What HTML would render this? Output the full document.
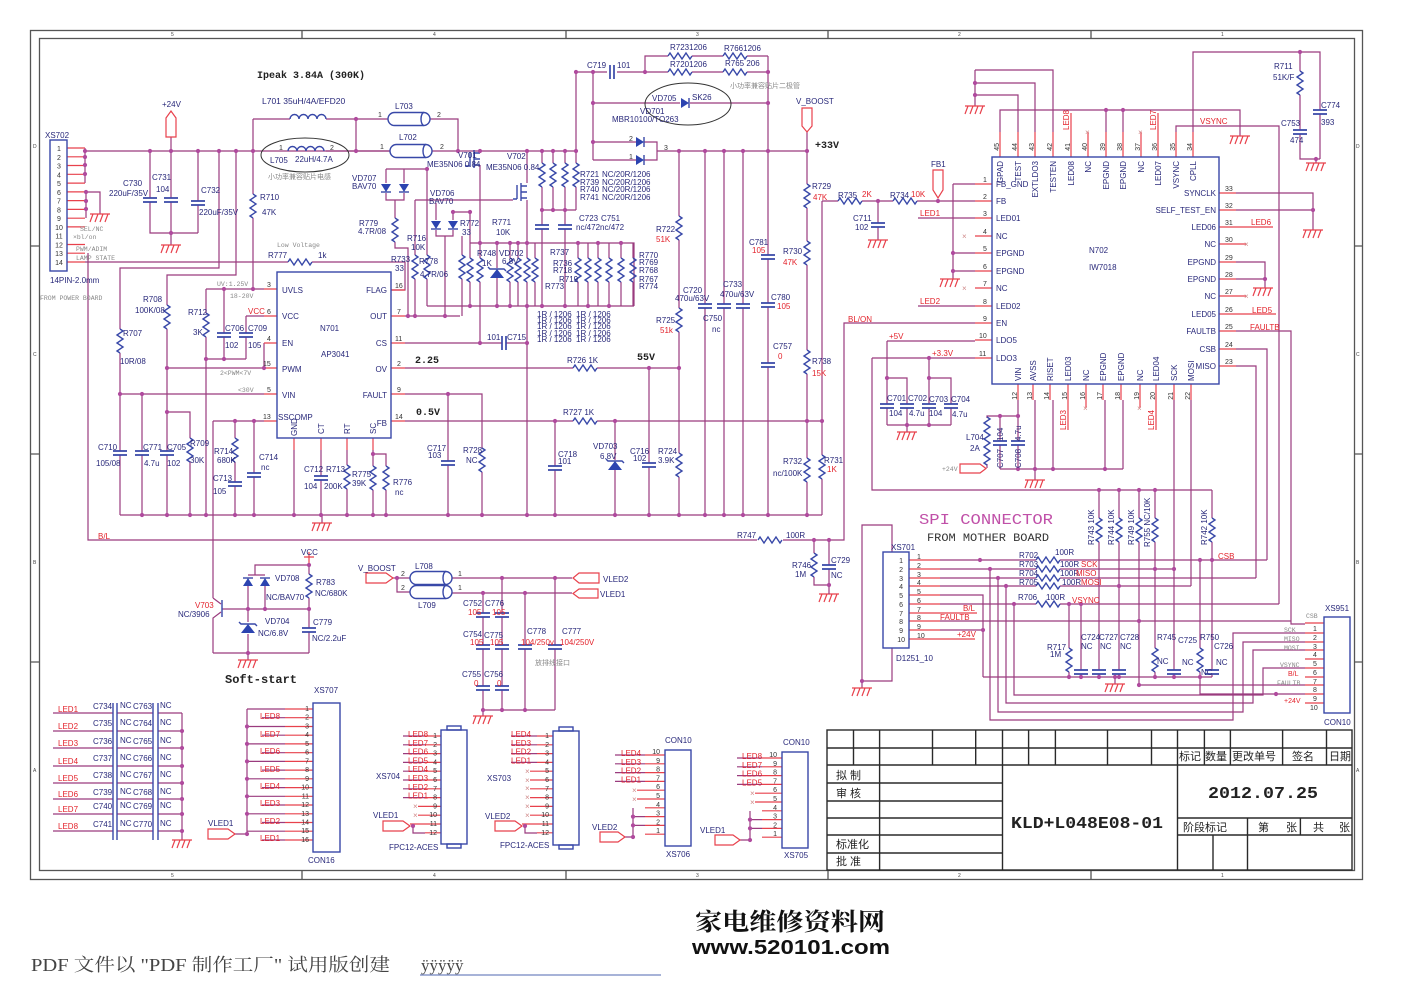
<!DOCTYPE html>
<html><head><meta charset="utf-8"><style>
html,body{margin:0;padding:0;background:#fff;}
svg{display:block}
.w{stroke:#9a3b7e;stroke-width:1.2;fill:none}
.r{stroke:#e8414c;stroke-width:1.2;fill:none}
.b{stroke:#3848a8;stroke-width:1.4;fill:none}
.k{stroke:#2a2a2a;stroke-width:1.4;fill:none}
.f{stroke:#555;stroke-width:1.3;fill:none}
text{font-family:"Liberation Sans",sans-serif;font-size:8px;fill:#28287a}
.tr{fill:#e3232c}
.tg{font-family:"Liberation Mono",monospace;font-size:6.5px;fill:#888}
.tz{font-size:5px;fill:#444}
.tb{font-family:"Liberation Mono",monospace;font-weight:bold;font-size:10px;fill:#222}
.tc{font-family:"Liberation Sans","Noto Sans CJK SC",sans-serif;font-size:7px;fill:#888}
.tn{font-size:7px;fill:#333}
.tk{font-family:"Liberation Sans","Noto Sans CJK SC",sans-serif;font-size:11px;fill:#222}
.x{font-size:8px;fill:#d08a8a}
</style></head><body>
<svg width="1404" height="993" viewBox="0 0 1404 993" xmlns="http://www.w3.org/2000/svg">
<defs>
<path id="rv" class="b" d="M0,-12 l3,2 l-6,4 l6,4 l-6,4 l6,4 l-6,4 l3,2"/>
<path id="rh" class="b" d="M-12,0 l2,-3 l4,6 l4,-6 l4,6 l4,-6 l4,6 l2,-3"/>
<path id="cv" class="b" d="M-7,-2h14M-7,2h14" style="stroke-width:1.7"/>
<path id="ch" class="b" d="M-2,-7v14M2,-7v14" style="stroke-width:1.7"/>
<path id="gnd" class="r" d="M-10,0h20M-7,0l-3,8M-2,0l-3,8M3,0l-3,8M8,0l-3,8"/>
<g id="dd"><path d="M-5,-4H5L0,4Z" fill="#2c44b0"/><path class="b" d="M-5,4H5"/></g>
<g id="du"><path d="M-5,4H5L0,-4Z" fill="#2c44b0"/><path class="b" d="M-5,-4H5"/></g>
<g id="dr"><path d="M-4,-5V5L4,0Z" fill="#2c44b0"/><path class="b" d="M4,-5V5"/></g>
<g id="zu"><path d="M-7,5H7L0,-4Z" fill="#2c44b0"/><path class="b" d="M-9,-6l2,2H7l2,2"/></g>
<circle id="d" r="2.1" fill="#b04a9e"/>
<path id="coil" class="b" d="M0,0a4.5,4.5 0 0 1 9,0a4.5,4.5 0 0 1 9,0a4.5,4.5 0 0 1 9,0a4.5,4.5 0 0 1 9,0"/>
<g id="bead"><rect x="0" y="-6.5" width="42" height="13" rx="6.5" class="b"/><path class="b" d="M36,-6.5a3,6.5 0 0 0 0,13"/></g>
</defs>

<!-- FRAME -->
<rect x="30.5" y="30.5" width="1332" height="849" class="f"/>
<rect x="39.5" y="38.5" width="1315" height="832" class="f"/>
<path class="f" d="M302,30V38M566,30V38M828,30V38M1091,30V38M302,870V879M566,870V879M828,870V879M1091,870V879M30,246H39M30,454H39M30,662H39M1354,246H1362M1354,454H1362M1354,662H1362"/>
<text class="tz" x="171" y="36">5</text><text class="tz" x="433" y="36">4</text><text class="tz" x="696" y="36">3</text><text class="tz" x="958" y="36">2</text><text class="tz" x="1221" y="36">1</text>
<text class="tz" x="171" y="877">5</text><text class="tz" x="433" y="877">4</text><text class="tz" x="696" y="877">3</text><text class="tz" x="958" y="877">2</text><text class="tz" x="1221" y="877">1</text>
<text class="tz" x="33" y="148">D</text><text class="tz" x="33" y="356">C</text><text class="tz" x="33" y="564">B</text><text class="tz" x="33" y="772">A</text>
<text class="tz" x="1356" y="148">D</text><text class="tz" x="1356" y="356">C</text><text class="tz" x="1356" y="564">B</text><text class="tz" x="1356" y="772">A</text>

<!-- WIRES -->
<path class="w" d="M85,148V183M85,151H390M86,192V218M86,192H100V214M88,253V540H757M783,540H844V323H975
M85,262H288M312,262H405V290H391M171,137V151
M150,151V198M150,202V233H198M171,151V198M171,202V245M198,151V201M198,205V233
M219,151V268H120V329M120,353V451M120,455V515M236,151V275H167V305M167,329V451M167,455V515
M253,119V194M253,218V289M253,119H290M326,119H388M430,119H458V151M356,119V151M432,151H576
M206,289H264M206,289V313M206,337V515M224,289V333M224,337V359M246,316V333M246,337V359M206,359H246
M246,316H264M264,343V368M167,368H264M120,394H264M142,394V451M142,455V515M167,412H190V438M190,462V515
M213,421H264M213,421V598M235,421V438M235,462V482M235,486V515M254,421V473M254,477V515
M294,450V515M321,450V476M321,480V515M347,450V465M347,489V515M373,450V466M373,490V515M373,454H386V466M386,490V515
M120,515H822M322,515V523
M405,316H460M405,343H502M506,343H527M405,368H573M597,368H679M405,394H482V448M482,472V515M448,394V461M448,465V515
M405,421H573M597,421H822M555,421V466M555,470V515M615,421V460M615,470V515M649,368V463M649,467V515
M679,151V216M679,240V308M679,332V453M679,477V515M705,151V304M705,308V515M724,151V304M724,308V515M743,151V304M743,308V515
M768,56V255M768,259V303M768,307V363M768,367V515M807,132V184M807,208V241M807,265V350M807,374V458M807,482V515
M822,201V455M822,479V515M822,201H838M862,201H893M917,201H975M878,201V223M878,227V240M657,151H807
M576,72H607M617,72H668M692,72H723M747,72H768M645,72V56H668M692,56H723M747,56H768M576,72V151
M593,72V160M593,142H636M593,160H636M644,142H657V160H644M593,103H680M690,103H768
M480,151V153M480,165V258M480,282V343M527,151V183M527,200V258M527,282V515
M542,151V163M542,187V225M542,229V306M553,151V163M553,187V210M565,151V163M565,187V225M565,229V306M576,151V163M576,187V210M542,210H576
M470,243H634V306M427,306H634M470,212V258M470,282V306
M510,243V258M510,282V306M518,243V258M518,282V306M535,243V258M535,282V306M578,243V258M578,282V306M588,243V258M588,282V306
M598,243V258M598,282V306M609,243V258M609,282V306M621,243V258M621,282V306M633,243V258M633,282V306
M497,243V268M497,278V306
M386,169H425M386,169V183M404,169V183M386,193V200H404V193M395,200V218M395,242V248H408V316
M427,169V255M427,279V306M415,200H513M415,200V255M415,279V316
M436,203V220M453,212V220M436,230V236H453V230M445,236V316M453,212H470M462,236V255M462,279V316
M872,358H975M872,358V490H1212M887,341H975M887,341V404M887,408V425M887,378H907V404M907,408V425M929,358V404M929,408V425M929,378H951V404M951,408V425M887,425H951M907,425V432
M918,218H975M918,306H975M953,184H975M953,184V279M953,253H975M953,271H975
M975,70H1053V132M975,83H1035V132M975,95H1018V132M975,70V106M1000,132V110H1240V136M1106,110V132M1123,110V132
M1176,132V126H1279V604M1193,132V52H1320V110M1320,114V159M1300,52V71M1300,95V130M1300,134V159H1320M1316,159V163
M1236,193H1313V230M1236,210H1313M1236,262H1265V288M1236,279H1265M1236,331H1291V624H1305M1236,349H1267V560M1236,366H1256V578
M1018,400V416H987V418M987,464V468M1000,416V441M1000,445V469M1018,416V441M1018,445V469M1000,469H1123M1035,400V480M1053,400V469M1105,400V469M1123,400V469
M1174,400V670M1174,674V677M1191,400V586
M892,552V525H862V681H892V648M862,681V688
M940,560H1036M1060,560H1267M940,569H1036M1060,569H1174M940,578H1036M1060,578H1256M940,586H1036M1060,586H1191
M940,595H983V677M940,604H1036M1060,604H1279M940,621H1291M940,630H983
M1069,604V648M1069,672V677M1081,604V670M1081,674V677M1099,490V518M1099,542V670M1099,674V677M1119,490V518M1119,542V670M1119,674V677
M1139,490V518M1139,542V685H1305M1155,490V518M1155,542V648M1155,672V677M1200,560V648M1200,672V694H1305M1212,490V518M1212,542V670M1212,674V677
M983,677H1212M1115,677V684
M990,569V720H1233V633H1305M998,578V712H1243V642H1305M1006,586V703H1253V650H1305M1014,604V695H1263V668H1305
M53,713H113M117,713H153M158,713H182M53,731H113M117,731H153M158,731H182M53,748H113M117,748H153M158,748H182M53,766H113M117,766H153M158,766H182
M53,783H113M117,783H153M158,783H182M53,799H113M117,799H153M158,799H182M53,814H113M117,814H153M158,814H182M53,831H113M117,831H153M158,831H182
M182,713V840
M247,709V834M235,834H247M247,709H285M247,726.5H285M247,743.9H285M247,761.4H285M247,778.8H285M247,796.3H285M247,813.8H285M247,831.2H285
M262,717.7H285M262,735.2H285M262,752.7H285M262,770.1H285M262,787.6H285M262,805H285M262,822.5H285M262,840H285
M403,736H425M403,744.8H425M403,753.6H425M403,762.4H425M403,771.2H425M403,780H425M403,788.8H425M403,797.6H425M413,826V833H425
M511,736H537M511,744.8H537M511,753.6H537M511,762.4H537M525,826V833H537
M615,755H645M615,763.8H645M615,772.6H645M615,781.4H645M633,808V837M625,837H633M633,816.6H645M633,825.4H645
M737,758H762M737,766.8H762M737,775.6H762M737,784.4H762M750,811V840M740,840H750M750,819.6H762M750,828.4H762
M393,578H410M397,578V592H410M452,578H572M452,593H572
M483,593V613M483,617V645M483,649V686M483,690V710M502,578V613M502,617V645M502,649V686M502,690V710M525,593V645M525,649V710M555,578V645M555,649V710M483,710H555M483,710V716
M213,598l8,6M221,612l-8,6V653M222,609H309M255,575V565H309M248,575H265M248,586V609M265,586V609M309,565V574M309,598V628M309,632V653M248,609V622M248,634V653M213,653H309M248,653V660
"/>
<!-- red pin stubs -->
<path class="r" d="M67,148H85M67,156.8H85M67,165.5H85M67,174.3H85M67,183.1H85M67,191.9H85M67,200.6H85M67,209.4H85M67,218.2H85M67,226.9H85M67,244.5H85M67,253.2H85M67,262H85
M264,289H277M264,316H277M264,343H277M264,368H277M264,394H277M264,421H277M391,290H405M391,316H405M391,343H405M391,368H405M391,394H405M391,421H405
M294,438V450M321,438V450M347,438V450M373,438V450
M975,184H992M975,201H992M975,218H992M975,236H992M975,253H992M975,271H992M975,288H992M975,306H992M975,323H992M975,340H992M975,358H992
M1219,193H1236M1219,210H1236M1219,227H1236M1219,244H1236M1219,262H1236M1219,279H1236M1219,296H1236M1219,314H1236M1219,331H1236M1219,349H1236M1219,366H1236
M1000,132V157M1018,132V157M1035,132V157M1053,132V157M1071,113V157M1088,132V157M1106,132V157M1123,132V157M1141,132V157M1158,113V157M1176,132V157M1193,132V157
M1018,384V400M1033,384V400M1050,384V400M1068,384V430M1086,384V408M1103,384V400M1121,384V400M1140,384V408M1156,384V430M1174,384V400M1191,384V400
M1236,227H1273M1236,314H1276M1236,244H1246M1236,296H1246
M909,560H940M909,569H940M909,578H940M909,586H940M909,595H940M909,604H940M909,613H977M909,621H940M909,630H940M909,639H975
M1305,623H1324M1305,633H1324M1305,642H1324M1305,650H1324M1305,659H1324M1305,668H1324M1305,677H1324M1305,685H1324M1305,694H1324M1305,703H1324
M285,709H313M285,717.7H313M285,726.5H313M285,735.2H313M285,743.9H313M285,752.7H313M285,761.4H313M285,770.1H313M285,778.8H313M285,787.6H313M285,796.3H313M285,805H313M285,813.8H313M285,822.5H313M285,831.2H313M285,840H313
M425,736H441M425,744.8H441M425,753.6H441M425,762.4H441M425,771.2H441M425,780H441M425,788.8H441M425,797.6H441M418,806.4H441M418,815.2H441M410,824H441M425,832.8H441
M537,736H553M537,744.8H553M537,753.6H553M537,762.4H553M530,771.2H553M530,780H553M530,788.8H553M530,797.6H553M530,806.4H553M530,815.2H553M522,824H553M537,832.8H553
M645,755H665M645,763.8H665M645,772.6H665M645,781.4H665M637,790.2H665M637,799H665M645,807.8H665M645,816.6H665M645,825.4H665M645,834.2H665
M762,758H782M762,766.8H782M762,775.6H782M762,784.4H782M755,793.2H782M755,802H782M762,810.8H782M762,819.6H782M762,828.4H782M762,837.2H782
M309,552V565M304,557H314
"/>
<!-- ports -->
<path class="r" d="M166,137V118L171,111L176,118V137Z M802,108H812V126L807,132L802,126Z M933,170H943V190L938,198L933,190Z
M960,464H980L986,468.5L980,473H960Z M366,573H386L393,578L386,583H366Z M599,573H579L573,578L579,583H599Z M598,589H579L573,593.5L579,598H598Z
M208,829H228L235,834L228,839H208Z M383,821H403L410,826L403,831H383Z M495,821H515L522,826L515,831H495Z M600,832H618L625,837L618,842H600Z M715,835H733L740,840L733,845H715Z"/>

<!-- grounds -->
<use href="#gnd" x="100" y="214"/><use href="#gnd" x="171" y="245"/><use href="#gnd" x="322" y="523"/><use href="#gnd" x="878" y="240"/>
<use href="#gnd" x="950" y="279"/><use href="#gnd" x="975" y="106"/><use href="#gnd" x="1240" y="136"/><use href="#gnd" x="1316" y="163"/>
<use href="#gnd" x="1313" y="230"/><use href="#gnd" x="1263" y="288"/><use href="#gnd" x="907" y="432"/><use href="#gnd" x="1035" y="480"/>
<use href="#gnd" x="1115" y="684"/><use href="#gnd" x="862" y="688"/><use href="#gnd" x="182" y="840"/><use href="#gnd" x="483" y="716"/>
<use href="#gnd" x="248" y="660"/><use href="#gnd" x="829" y="594"/>

<!-- resistors -->
<use href="#rh" x="300" y="262"/><use href="#rv" x="120" y="341"/><use href="#rv" x="167" y="317"/><use href="#rv" x="253" y="206"/>
<use href="#rv" x="206" y="325"/><use href="#rv" x="190" y="450"/><use href="#rv" x="235" y="450"/><use href="#rv" x="347" y="477"/>
<use href="#rv" x="373" y="478"/><use href="#rv" x="386" y="478"/><use href="#rv" x="482" y="460"/><use href="#rh" x="585" y="368"/>
<use href="#rh" x="585" y="421"/><use href="#rv" x="679" y="228"/><use href="#rv" x="679" y="320"/><use href="#rv" x="679" y="465"/>
<use href="#rv" x="807" y="196"/><use href="#rv" x="807" y="253"/><use href="#rv" x="807" y="362"/><use href="#rv" x="807" y="470"/>
<use href="#rv" x="822" y="467"/><use href="#rh" x="850" y="201"/><use href="#rh" x="905" y="201"/>
<use href="#rh" x="680" y="72"/><use href="#rh" x="735" y="72"/><use href="#rh" x="680" y="56"/><use href="#rh" x="735" y="56"/>
<use href="#rv" x="542" y="175"/><use href="#rv" x="553" y="175"/><use href="#rv" x="565" y="175"/><use href="#rv" x="576" y="175"/>
<use href="#rv" x="470" y="270"/><use href="#rv" x="480" y="270"/><use href="#rv" x="510" y="270"/><use href="#rv" x="518" y="270"/><use href="#rv" x="527" y="270"/><use href="#rv" x="535" y="270"/>
<use href="#rv" x="578" y="270"/><use href="#rv" x="588" y="270"/><use href="#rv" x="598" y="270"/><use href="#rv" x="609" y="270"/><use href="#rv" x="621" y="270"/><use href="#rv" x="633" y="270"/>
<use href="#rv" x="395" y="230"/><use href="#rv" x="427" y="267"/><use href="#rv" x="415" y="267"/><use href="#rv" x="462" y="267"/>
<use href="#rv" x="1300" y="83"/><use href="#rv" x="987" y="429"/><use href="#rv" x="987" y="453"/>
<use href="#rh" x="1048" y="560"/><use href="#rh" x="1048" y="569"/><use href="#rh" x="1048" y="578"/><use href="#rh" x="1048" y="586"/><use href="#rh" x="1048" y="604"/>
<use href="#rv" x="1099" y="530"/><use href="#rv" x="1119" y="530"/><use href="#rv" x="1139" y="530"/><use href="#rv" x="1155" y="530"/><use href="#rv" x="1212" y="530"/>
<use href="#rv" x="1069" y="660"/><use href="#rv" x="1155" y="660"/><use href="#rv" x="1200" y="660"/>
<use href="#rh" x="770" y="540"/><use href="#rv" x="814" y="565"/><use href="#rv" x="309" y="586"/>
<path class="w" d="M814,540V553M814,577V585H829M829,540V565M829,569V594"/>
<use href="#cv" x="829" y="567"/>

<!-- caps -->
<use href="#cv" x="150" y="200"/><use href="#cv" x="171" y="200"/><use href="#cv" x="198" y="203"/><use href="#cv" x="224" y="335"/><use href="#cv" x="246" y="335"/>
<use href="#cv" x="120" y="453"/><use href="#cv" x="142" y="453"/><use href="#cv" x="167" y="453"/><use href="#cv" x="235" y="484"/><use href="#cv" x="254" y="475"/>
<use href="#cv" x="321" y="478"/><use href="#cv" x="448" y="463"/><use href="#ch" x="504" y="343"/><use href="#cv" x="555" y="468"/><use href="#cv" x="649" y="465"/>
<use href="#cv" x="705" y="306"/><use href="#cv" x="724" y="306"/><use href="#cv" x="743" y="306"/><use href="#cv" x="768" y="257"/><use href="#cv" x="768" y="305"/><use href="#cv" x="768" y="365"/>
<use href="#cv" x="878" y="225"/><use href="#ch" x="612" y="72"/><use href="#cv" x="542" y="227"/><use href="#cv" x="565" y="227"/>
<use href="#cv" x="887" y="406"/><use href="#cv" x="907" y="406"/><use href="#cv" x="929" y="406"/><use href="#cv" x="951" y="406"/><use href="#cv" x="1000" y="443"/><use href="#cv" x="1018" y="443"/>
<use href="#cv" x="1300" y="132"/><use href="#cv" x="1320" y="112"/>
<use href="#cv" x="1081" y="672"/><use href="#cv" x="1099" y="672"/><use href="#cv" x="1119" y="672"/><use href="#cv" x="1174" y="672"/><use href="#cv" x="1212" y="672"/>
<use href="#cv" x="483" y="615"/><use href="#cv" x="502" y="615"/><use href="#cv" x="483" y="647"/><use href="#cv" x="502" y="647"/><use href="#cv" x="483" y="688"/><use href="#cv" x="502" y="688"/>
<use href="#cv" x="525" y="647"/><use href="#cv" x="555" y="647"/><use href="#cv" x="309" y="630"/>
<path class="b" d="M113,703V840M117,703V840M153,703V840M158,703V840"/>

<!-- diodes -->
<use href="#dd" x="386" y="188"/><use href="#dd" x="404" y="188"/><use href="#dd" x="436" y="225"/><use href="#dd" x="453" y="225"/>
<use href="#zu" x="497" y="273"/><use href="#zu" x="615" y="465"/><use href="#dr" x="640" y="142"/><use href="#dr" x="640" y="160"/><use href="#dr" x="685" y="103"/>
<use href="#du" x="248" y="582"/><use href="#du" x="265" y="582"/><use href="#zu" x="248" y="628"/>
<!-- mosfets / transistor -->
<path class="b" d="M474,150V168M470,152V166M474,153H480M474,159H480M474,165H480M465,166H470M521,183V201M517,185V199M521,186H527M521,192H527M521,198H527M513,199H517M222,600V617"/>
<!-- inductors -->
<use href="#coil" x="290" y="119"/><use href="#coil" x="288" y="151"/>
<path class="w" d="M326,151H390"/>
<ellipse cx="305" cy="155" rx="44" ry="17" fill="none" stroke="#333" stroke-width="1"/>
<ellipse cx="688" cy="104" rx="43" ry="21" fill="none" stroke="#333" stroke-width="1"/>
<use href="#bead" x="388" y="119"/><use href="#bead" x="390" y="151"/><use href="#bead" x="410" y="578"/><use href="#bead" x="410" y="592"/>

<!-- ICs / connectors -->
<rect x="50" y="140" width="17" height="131" class="b"/>
<rect x="277" y="272" width="114" height="166" class="b"/>
<rect x="992" y="157" width="227" height="227" class="b"/>
<rect x="883" y="552" width="26" height="96" class="b"/>
<rect x="1324" y="617" width="26" height="96" class="b"/>
<rect x="313" y="703" width="27" height="149" class="b"/>
<rect x="441" y="730" width="26" height="114" class="b"/><rect x="447" y="726" width="14" height="4" class="b"/><rect x="447" y="844" width="14" height="4" class="b"/>
<rect x="553" y="731" width="26" height="114" class="b"/><rect x="559" y="727" width="14" height="4" class="b"/><rect x="559" y="845" width="14" height="4" class="b"/>
<rect x="665" y="750" width="26" height="96" class="b"/>
<rect x="782" y="752" width="26" height="96" class="b"/>

<!-- junction dots -->
<g>
<use href="#d" x="85" y="151"/><use href="#d" x="85" y="157"/><use href="#d" x="85" y="165"/><use href="#d" x="85" y="174"/><use href="#d" x="86" y="192"/><use href="#d" x="86" y="201"/><use href="#d" x="86" y="209"/>
<use href="#d" x="150" y="151"/><use href="#d" x="171" y="151"/><use href="#d" x="198" y="151"/><use href="#d" x="219" y="151"/><use href="#d" x="236" y="151"/><use href="#d" x="253" y="151"/><use href="#d" x="356" y="151"/><use href="#d" x="356" y="119"/><use href="#d" x="171" y="233"/>
<use href="#d" x="224" y="289"/><use href="#d" x="253" y="289"/><use href="#d" x="206" y="359"/><use href="#d" x="224" y="359"/><use href="#d" x="167" y="368"/><use href="#d" x="264" y="368"/><use href="#d" x="120" y="394"/><use href="#d" x="142" y="394"/><use href="#d" x="167" y="412"/>
<use href="#d" x="235" y="421"/><use href="#d" x="254" y="421"/><use href="#d" x="373" y="454"/>
<use href="#d" x="142" y="515"/><use href="#d" x="167" y="515"/><use href="#d" x="190" y="515"/><use href="#d" x="206" y="515"/><use href="#d" x="235" y="515"/><use href="#d" x="254" y="515"/><use href="#d" x="294" y="515"/><use href="#d" x="321" y="515"/><use href="#d" x="347" y="515"/><use href="#d" x="373" y="515"/><use href="#d" x="386" y="515"/><use href="#d" x="448" y="515"/><use href="#d" x="482" y="515"/><use href="#d" x="527" y="515"/><use href="#d" x="555" y="515"/><use href="#d" x="615" y="515"/><use href="#d" x="649" y="515"/><use href="#d" x="679" y="515"/><use href="#d" x="705" y="515"/><use href="#d" x="724" y="515"/><use href="#d" x="743" y="515"/><use href="#d" x="768" y="515"/><use href="#d" x="807" y="515"/>
<use href="#d" x="408" y="316"/><use href="#d" x="415" y="316"/><use href="#d" x="445" y="316"/><use href="#d" x="480" y="343"/><use href="#d" x="527" y="343"/><use href="#d" x="649" y="368"/><use href="#d" x="679" y="368"/><use href="#d" x="448" y="394"/>
<use href="#d" x="555" y="421"/><use href="#d" x="615" y="421"/><use href="#d" x="807" y="421"/><use href="#d" x="822" y="421"/>
<use href="#d" x="458" y="151"/><use href="#d" x="480" y="151"/><use href="#d" x="527" y="151"/><use href="#d" x="542" y="151"/><use href="#d" x="553" y="151"/><use href="#d" x="565" y="151"/><use href="#d" x="576" y="151"/>
<use href="#d" x="542" y="210"/><use href="#d" x="553" y="210"/><use href="#d" x="565" y="210"/>
<use href="#d" x="480" y="243"/><use href="#d" x="497" y="243"/><use href="#d" x="510" y="243"/><use href="#d" x="518" y="243"/><use href="#d" x="527" y="243"/><use href="#d" x="578" y="243"/><use href="#d" x="598" y="243"/><use href="#d" x="621" y="243"/>
<use href="#d" x="470" y="306"/><use href="#d" x="497" y="306"/><use href="#d" x="510" y="306"/><use href="#d" x="527" y="306"/><use href="#d" x="542" y="306"/><use href="#d" x="565" y="306"/><use href="#d" x="588" y="306"/><use href="#d" x="609" y="306"/>
<use href="#d" x="427" y="169"/><use href="#d" x="453" y="212"/><use href="#d" x="470" y="212"/>
<use href="#d" x="576" y="72"/><use href="#d" x="593" y="72"/><use href="#d" x="645" y="72"/><use href="#d" x="768" y="72"/><use href="#d" x="593" y="103"/><use href="#d" x="768" y="103"/><use href="#d" x="593" y="142"/>
<use href="#d" x="679" y="151"/><use href="#d" x="705" y="151"/><use href="#d" x="724" y="151"/><use href="#d" x="743" y="151"/><use href="#d" x="768" y="151"/><use href="#d" x="807" y="151"/>
<use href="#d" x="878" y="201"/><use href="#d" x="938" y="201"/><use href="#d" x="953" y="253"/><use href="#d" x="953" y="271"/>
<use href="#d" x="975" y="83"/><use href="#d" x="975" y="95"/><use href="#d" x="1106" y="110"/><use href="#d" x="1123" y="110"/><use href="#d" x="1300" y="52"/><use href="#d" x="1316" y="159"/><use href="#d" x="1313" y="210"/><use href="#d" x="1265" y="279"/>
<use href="#d" x="887" y="378"/><use href="#d" x="929" y="358"/><use href="#d" x="929" y="378"/><use href="#d" x="907" y="425"/><use href="#d" x="929" y="425"/>
<use href="#d" x="1000" y="416"/><use href="#d" x="1018" y="416"/><use href="#d" x="1018" y="469"/><use href="#d" x="1035" y="469"/><use href="#d" x="1053" y="469"/><use href="#d" x="1105" y="469"/>
<use href="#d" x="1099" y="490"/><use href="#d" x="1119" y="490"/><use href="#d" x="1139" y="490"/><use href="#d" x="1155" y="490"/>
<use href="#d" x="980" y="560"/><use href="#d" x="1200" y="560"/><use href="#d" x="1212" y="560"/><use href="#d" x="990" y="569"/><use href="#d" x="1155" y="569"/><use href="#d" x="1174" y="569"/><use href="#d" x="998" y="578"/><use href="#d" x="1006" y="586"/><use href="#d" x="1119" y="586"/>
<use href="#d" x="1014" y="604"/><use href="#d" x="1069" y="604"/><use href="#d" x="1081" y="604"/><use href="#d" x="1139" y="621"/><use href="#d" x="983" y="630"/>
<use href="#d" x="1069" y="677"/><use href="#d" x="1081" y="677"/><use href="#d" x="1099" y="677"/><use href="#d" x="1115" y="677"/><use href="#d" x="1119" y="677"/><use href="#d" x="1155" y="677"/><use href="#d" x="1174" y="677"/><use href="#d" x="1200" y="677"/><use href="#d" x="1139" y="685"/><use href="#d" x="1276" y="694"/>
<use href="#d" x="862" y="681"/><use href="#d" x="814" y="540"/><use href="#d" x="829" y="540"/><use href="#d" x="829" y="585"/>
<use href="#d" x="182" y="731"/><use href="#d" x="182" y="748"/><use href="#d" x="182" y="766"/><use href="#d" x="182" y="783"/><use href="#d" x="182" y="799"/><use href="#d" x="182" y="814"/><use href="#d" x="182" y="831"/>
<use href="#d" x="247" y="726.5"/><use href="#d" x="247" y="743.9"/><use href="#d" x="247" y="761.4"/><use href="#d" x="247" y="778.8"/><use href="#d" x="247" y="796.3"/><use href="#d" x="247" y="813.8"/><use href="#d" x="247" y="834"/>
<use href="#d" x="413" y="826"/><use href="#d" x="525" y="826"/><use href="#d" x="633" y="816.6"/><use href="#d" x="633" y="825.4"/><use href="#d" x="633" y="837"/><use href="#d" x="750" y="819.6"/><use href="#d" x="750" y="828.4"/><use href="#d" x="750" y="840"/>
<use href="#d" x="397" y="578"/><use href="#d" x="502" y="578"/><use href="#d" x="555" y="578"/><use href="#d" x="483" y="593"/><use href="#d" x="525" y="593"/><use href="#d" x="483" y="710"/><use href="#d" x="502" y="710"/><use href="#d" x="525" y="710"/>
<use href="#d" x="309" y="565"/><use href="#d" x="248" y="609"/><use href="#d" x="265" y="609"/><use href="#d" x="309" y="609"/><use href="#d" x="248" y="653"/>
</g>

<!-- LEFT TEXT -->
<text class="tb" x="257" y="78">Ipeak 3.84A (300K)</text>
<text x="162" y="107">+24V</text>
<text x="262" y="104" style="font-size:8.5px">L701  35uH/4A/EFD20</text>
<text x="395" y="109">L703</text><text class="tn" x="378" y="117">1</text><text class="tn" x="437" y="117">2</text>
<text x="399" y="140">L702</text><text class="tn" x="380" y="149">1</text><text class="tn" x="440" y="149">2</text>
<text x="45" y="138">XS702</text>
<text class="tn" x="59" y="151" text-anchor="middle">1</text><text class="tn" x="59" y="159.8" text-anchor="middle">2</text><text class="tn" x="59" y="168.5" text-anchor="middle">3</text><text class="tn" x="59" y="177.3" text-anchor="middle">4</text><text class="tn" x="59" y="186.1" text-anchor="middle">5</text><text class="tn" x="59" y="194.9" text-anchor="middle">6</text><text class="tn" x="59" y="203.6" text-anchor="middle">7</text><text class="tn" x="59" y="212.4" text-anchor="middle">8</text><text class="tn" x="59" y="221.2" text-anchor="middle">9</text><text class="tn" x="59" y="229.9" text-anchor="middle">10</text><text class="tn" x="59" y="238.7" text-anchor="middle">11</text><text class="tn" x="59" y="247.5" text-anchor="middle">12</text><text class="tn" x="59" y="256.2" text-anchor="middle">13</text><text class="tn" x="59" y="265" text-anchor="middle">14</text>
<text class="tg" x="80" y="231">SEL/NC</text><text class="tg" x="73" y="239">×bl/on</text><text class="tg" x="76" y="251">PWM/ADIM</text><text class="tg" x="76" y="260">LAMP STATE</text>
<text x="50" y="283">14PIN-2.0mm</text><text class="tg" x="40" y="300">FROM POWER BOARD</text>
<text x="123" y="186">C730</text><text x="109" y="196">220uF/35V</text><text x="152" y="180">C731</text><text x="156" y="192">104</text><text x="201" y="193">C732</text><text x="199" y="215">220uF/35V</text>
<text x="260" y="200">R710</text><text x="262" y="215">47K</text>
<text x="270" y="163">L705</text><text x="295" y="162">22uH/4.7A</text><text class="tn" x="279" y="150">1</text><text class="tn" x="330" y="150">2</text>
<text class="tc" x="268" y="179">小功率兼容贴片电感</text>
<text x="352" y="181">VD707</text><text x="352" y="189">BAV70</text>
<text x="359" y="226">R779</text><text x="358" y="234">4.7R/08</text>
<text class="tg" x="277" y="247">Low Voltage</text><text x="268" y="258">R777</text><text x="318" y="258">1k</text>
<text x="391" y="262">R733</text><text x="395" y="271">33</text><text x="407" y="241">R716</text><text x="411" y="250">10K</text><text x="419" y="264">R778</text><text x="420" y="277">4.7R/06</text>
<text x="430" y="196">VD706</text><text x="429" y="204">BAV70</text><text x="460" y="226">R772</text><text x="462" y="235">33</text><text x="492" y="225">R771</text><text x="496" y="235">10K</text>
<text x="477" y="256">R748</text><text x="482" y="266">1K</text><text x="499" y="256">VD702</text><text x="502" y="264">6.8V</text>
<text x="458" y="158">V701</text><text x="427" y="167">ME35N06 0.84</text><text x="507" y="159">V702</text><text x="486" y="170">ME35N06 0.84</text>
<text x="580" y="177">R721</text><text x="602" y="177">NC/20R/1206</text><text x="580" y="185">R739</text><text x="602" y="185">NC/20R/1206</text><text x="580" y="192">R740</text><text x="602" y="192">NC/20R/1206</text><text x="580" y="200">R741</text><text x="602" y="200">NC/20R/1206</text>
<text x="579" y="221">C723</text><text x="601" y="221">C751</text><text x="576" y="230">nc/472nc/472</text>
<text x="550" y="255">R737</text><text x="553" y="266">R736</text><text x="553" y="273">R718</text><text x="559" y="282">R719</text><text x="545" y="289">R773</text>
<text x="639" y="258">R770</text><text x="639" y="265">R769</text><text x="639" y="273">R768</text><text x="639" y="282">R767</text><text x="639" y="289">R774</text>
<text x="537" y="317">1R / 1206</text><text x="537" y="323">1R / 1206</text><text x="537" y="329">1R / 1206</text><text x="537" y="336">1R / 1206</text><text x="537" y="342">1R / 1206</text>
<text x="576" y="317">1R / 1206</text><text x="576" y="323">1R / 1206</text><text x="576" y="329">1R / 1206</text><text x="576" y="336">1R / 1206</text><text x="576" y="342">1R / 1206</text>
<!-- N701 -->
<text x="282" y="293">UVLS</text><text x="282" y="319">VCC</text><text x="282" y="346">EN</text><text x="282" y="372">PWM</text><text x="282" y="398">VIN</text><text x="278" y="420">SSCOMP</text>
<text x="387" y="293" text-anchor="end">FLAG</text><text x="387" y="319" text-anchor="end">OUT</text><text x="387" y="346" text-anchor="end">CS</text><text x="387" y="372" text-anchor="end">OV</text><text x="387" y="398" text-anchor="end">FAULT</text><text x="387" y="426" text-anchor="end">FB</text>
<text x="297" y="436" transform="rotate(-90 297 436)">GND</text><text x="324" y="434" transform="rotate(-90 324 434)">CT</text><text x="350" y="434" transform="rotate(-90 350 434)">RT</text><text x="376" y="434" transform="rotate(-90 376 434)">SC</text>
<text x="320" y="331">N701</text><text x="321" y="357">AP3041</text>
<text class="tn" x="267" y="287">3</text><text class="tn" x="267" y="314">6</text><text class="tn" x="267" y="341">4</text><text class="tn" x="263" y="366">15</text><text class="tn" x="267" y="392">5</text><text class="tn" x="263" y="419">13</text>
<text class="tn" x="395" y="288">16</text><text class="tn" x="397" y="314">7</text><text class="tn" x="395" y="341">11</text><text class="tn" x="397" y="366">2</text><text class="tn" x="397" y="392">9</text><text class="tn" x="395" y="419">14</text>
<text class="tg" x="217" y="286">UV:1.25V</text><text class="tg" x="230" y="298">18-20V</text><text class="tr" x="248" y="314">VCC</text>
<text x="143" y="302">R708</text><text x="135" y="313">100K/08</text><text x="188" y="315">R712</text><text x="193" y="335">3K</text><text x="123" y="336">R707</text><text x="120" y="364">10R/08</text>
<text x="225" y="331">C706</text><text x="248" y="331">C709</text><text x="225" y="348">102</text><text x="248" y="348">105</text>
<text class="tg" x="220" y="375">2&lt;PWM&lt;7V</text><text class="tg" x="238" y="392">&lt;30V</text>
<text x="98" y="450">C710</text><text x="96" y="466">105/08</text><text x="143" y="450">C771</text><text x="144" y="466">4.7u</text><text x="167" y="450">C705</text><text x="167" y="466">102</text><text x="190" y="446">R709</text><text x="190" y="463">30K</text>
<text x="214" y="454">R714</text><text x="217" y="463">680K</text><text x="213" y="481">C713</text><text x="213" y="494">105</text><text x="259" y="460">C714</text><text x="261" y="470">nc</text>
<text x="304" y="472">C712</text><text x="304" y="489">104</text><text x="326" y="472">R713</text><text x="324" y="489">200K</text><text x="352" y="477">R775</text><text x="352" y="486">39K</text><text x="393" y="485">R776</text><text x="395" y="495">nc</text>
<text class="tr" x="98" y="539">B/L</text>
<!-- middle texts -->
<text class="tb" x="415" y="363">2.25</text><text x="567" y="363">R726  1K</text><text class="tb" x="637" y="360">55V</text>
<text class="tb" x="416" y="415">0.5V</text><text x="563" y="415">R727  1K</text>
<text x="487" y="340">101</text><text x="507" y="340">C715</text>
<text x="427" y="451">C717</text><text x="428" y="458">103</text><text x="463" y="453">R728</text><text x="466" y="463">NC</text>
<text x="558" y="457">C718</text><text x="558" y="464">101</text><text x="593" y="449">VD703</text><text x="600" y="459">6.8V</text><text x="630" y="454">C716</text><text x="633" y="461">102</text><text x="658" y="454">R724</text><text x="658" y="463">3.9K</text>
<text x="773" y="349">C757</text><text class="tr" x="778" y="359">0</text><text x="812" y="364">R738</text><text class="tr" x="812" y="376">15K</text>
<text x="783" y="464">R732</text><text x="773" y="476">nc/100K</text><text x="824" y="463">R731</text><text class="tr" x="827" y="472">1K</text>
<text x="737" y="538">R747</text><text x="786" y="538">100R</text><text x="792" y="568">R746</text><text x="795" y="577">1M</text><text x="831" y="563">C729</text><text x="831" y="578">NC</text>
<!-- top middle texts -->
<text x="587" y="68">C719</text><text x="617" y="68">101</text>
<text x="670" y="50">R7231206</text><text x="724" y="51">R7661206</text><text x="670" y="67">R7201206</text><text x="725" y="66">R765 206</text>
<text class="tc" x="730" y="88">小功率兼容贴片二极管</text>
<text x="652" y="101">VD705</text><text x="692" y="100">SK26</text><text x="640" y="114">VD701</text><text x="612" y="122">MBR10100/TO263</text>
<text x="796" y="104">V_BOOST</text><text class="tb" x="815" y="148">+33V</text>
<text class="tn" x="629" y="141">2</text><text class="tn" x="629" y="159">1</text><text class="tn" x="664" y="150">3</text>
<text x="812" y="189">R729</text><text class="tr" x="813" y="200">47K</text><text x="838" y="198">R735</text><text class="tr" x="862" y="197">2K</text><text x="890" y="198">R734</text><text class="tr" x="911" y="197">10K</text>
<text x="853" y="221">C711</text><text x="855" y="230">102</text>
<text x="656" y="232">R722</text><text class="tr" x="656" y="242">51K</text><text x="749" y="245">C781</text><text class="tr" x="752" y="253">105</text><text x="783" y="254">R730</text><text class="tr" x="783" y="265">47K</text>
<text x="683" y="293">C720</text><text x="675" y="301">470u/63V</text><text x="723" y="287">C733</text><text x="720" y="297">470u/63V</text><text x="703" y="321">C750</text><text x="712" y="332">nc</text>
<text x="771" y="300">C780</text><text class="tr" x="777" y="309">105</text><text x="656" y="323">R725</text><text class="tr" x="660" y="333">51k</text>
<!-- N702 area -->
<text class="tr" x="920" y="216">LED1</text><text class="tr" x="920" y="304">LED2</text><text class="tr" x="848" y="322">BL/ON</text><text class="tr" x="889" y="339">+5V</text><text class="tr" x="932" y="356">+3.3V</text>
<text x="931" y="167">FB1</text>
<text x="887" y="401">C701</text><text x="908" y="401">C702</text><text x="929" y="402">C703</text><text x="951" y="402">C704</text><text x="889" y="416">104</text><text x="909" y="416">4.7u</text><text x="929" y="416">104</text><text x="952" y="417">4.7u</text>
<text x="966" y="440">L704</text><text x="970" y="451">2A</text><text class="tg" x="942" y="471">+24V</text>
<text x="1003" y="468" transform="rotate(-90 1003 468)">C707</text><text x="1003" y="441" transform="rotate(-90 1003 441)">104</text><text x="1021" y="468" transform="rotate(-90 1021 468)">C708</text><text x="1021" y="441" transform="rotate(-90 1021 441)">4.7u</text>
<text x="996" y="187">FB_GND</text><text x="996" y="204">FB</text><text x="996" y="221">LED01</text><text x="996" y="239">NC</text><text x="996" y="256">EPGND</text><text x="996" y="274">EPGND</text><text x="996" y="291">NC</text><text x="996" y="309">LED02</text><text x="996" y="326">EN</text><text x="996" y="343">LDO5</text><text x="996" y="361">LDO3</text>
<text x="1216" y="196" text-anchor="end">SYNCLK</text><text x="1216" y="213" text-anchor="end">SELF_TEST_EN</text><text x="1216" y="230" text-anchor="end">LED06</text><text x="1216" y="247" text-anchor="end">NC</text><text x="1216" y="265" text-anchor="end">EPGND</text><text x="1216" y="282" text-anchor="end">EPGND</text><text x="1216" y="299" text-anchor="end">NC</text><text x="1216" y="317" text-anchor="end">LED05</text><text x="1216" y="334" text-anchor="end">FAULTB</text><text x="1216" y="352" text-anchor="end">CSB</text><text x="1216" y="369" text-anchor="end">MISO</text>
<g class="tn">
<text class="tn" x="983" y="182">1</text><text class="tn" x="983" y="199">2</text><text class="tn" x="983" y="216">3</text><text class="tn" x="983" y="234">4</text><text class="tn" x="983" y="251">5</text><text class="tn" x="983" y="269">6</text><text class="tn" x="983" y="286">7</text><text class="tn" x="983" y="304">8</text><text class="tn" x="983" y="321">9</text><text class="tn" x="979" y="338">10</text><text class="tn" x="979" y="356">11</text>
<text class="tn" x="1225" y="191">33</text><text class="tn" x="1225" y="208">32</text><text class="tn" x="1225" y="225">31</text><text class="tn" x="1225" y="242">30</text><text class="tn" x="1225" y="260">29</text><text class="tn" x="1225" y="277">28</text><text class="tn" x="1225" y="294">27</text><text class="tn" x="1225" y="312">26</text><text class="tn" x="1225" y="329">25</text><text class="tn" x="1225" y="347">24</text><text class="tn" x="1225" y="364">23</text>
</g>
<text class="tn" x="999" y="143" transform="rotate(-90 999 143)" text-anchor="end">45</text><text class="tn" x="1017" y="143" transform="rotate(-90 1017 143)" text-anchor="end">44</text><text class="tn" x="1034" y="143" transform="rotate(-90 1034 143)" text-anchor="end">43</text><text class="tn" x="1052" y="143" transform="rotate(-90 1052 143)" text-anchor="end">42</text><text class="tn" x="1070" y="143" transform="rotate(-90 1070 143)" text-anchor="end">41</text><text class="tn" x="1087" y="143" transform="rotate(-90 1087 143)" text-anchor="end">40</text><text class="tn" x="1105" y="143" transform="rotate(-90 1105 143)" text-anchor="end">39</text><text class="tn" x="1122" y="143" transform="rotate(-90 1122 143)" text-anchor="end">38</text><text class="tn" x="1140" y="143" transform="rotate(-90 1140 143)" text-anchor="end">37</text><text class="tn" x="1157" y="143" transform="rotate(-90 1157 143)" text-anchor="end">36</text><text class="tn" x="1175" y="143" transform="rotate(-90 1175 143)" text-anchor="end">35</text><text class="tn" x="1192" y="143" transform="rotate(-90 1192 143)" text-anchor="end">34</text>
<text x="1003" y="161" transform="rotate(-90 1003 161)" text-anchor="end">GPAD</text><text x="1021" y="161" transform="rotate(-90 1021 161)" text-anchor="end">TEST</text><text x="1038" y="161" transform="rotate(-90 1038 161)" text-anchor="end">EXTLDO3</text><text x="1056" y="161" transform="rotate(-90 1056 161)" text-anchor="end">TESTEN</text><text x="1074" y="161" transform="rotate(-90 1074 161)" text-anchor="end">LED08</text><text x="1091" y="161" transform="rotate(-90 1091 161)" text-anchor="end">NC</text><text x="1109" y="161" transform="rotate(-90 1109 161)" text-anchor="end">EPGND</text><text x="1126" y="161" transform="rotate(-90 1126 161)" text-anchor="end">EPGND</text><text x="1144" y="161" transform="rotate(-90 1144 161)" text-anchor="end">NC</text><text x="1161" y="161" transform="rotate(-90 1161 161)" text-anchor="end">LED07</text><text x="1179" y="161" transform="rotate(-90 1179 161)" text-anchor="end">VSYNC</text><text x="1196" y="161" transform="rotate(-90 1196 161)" text-anchor="end">CPLL</text>
<text x="1021" y="381" transform="rotate(-90 1021 381)">VIN</text><text x="1036" y="381" transform="rotate(-90 1036 381)">AVSS</text><text x="1053" y="381" transform="rotate(-90 1053 381)">RISET</text><text x="1071" y="381" transform="rotate(-90 1071 381)">LED03</text><text x="1089" y="381" transform="rotate(-90 1089 381)">NC</text><text x="1106" y="381" transform="rotate(-90 1106 381)">EPGND</text><text x="1124" y="381" transform="rotate(-90 1124 381)">EPGND</text><text x="1143" y="381" transform="rotate(-90 1143 381)">NC</text><text x="1159" y="381" transform="rotate(-90 1159 381)">LED04</text><text x="1177" y="381" transform="rotate(-90 1177 381)">SCK</text><text x="1194" y="381" transform="rotate(-90 1194 381)">MOSI</text>
<text class="tn" x="1017" y="392" transform="rotate(-90 1017 392)" text-anchor="end">12</text><text class="tn" x="1032" y="392" transform="rotate(-90 1032 392)" text-anchor="end">13</text><text class="tn" x="1049" y="392" transform="rotate(-90 1049 392)" text-anchor="end">14</text><text class="tn" x="1067" y="392" transform="rotate(-90 1067 392)" text-anchor="end">15</text><text class="tn" x="1085" y="392" transform="rotate(-90 1085 392)" text-anchor="end">16</text><text class="tn" x="1102" y="392" transform="rotate(-90 1102 392)" text-anchor="end">17</text><text class="tn" x="1120" y="392" transform="rotate(-90 1120 392)" text-anchor="end">18</text><text class="tn" x="1139" y="392" transform="rotate(-90 1139 392)" text-anchor="end">19</text><text class="tn" x="1155" y="392" transform="rotate(-90 1155 392)" text-anchor="end">20</text><text class="tn" x="1173" y="392" transform="rotate(-90 1173 392)" text-anchor="end">21</text><text class="tn" x="1190" y="392" transform="rotate(-90 1190 392)" text-anchor="end">22</text>
<text class="tr" x="1066" y="430" transform="rotate(-90 1066 430)">LED3</text><text class="tr" x="1154" y="430" transform="rotate(-90 1154 430)">LED4</text>
<text class="tr" x="1069" y="130" transform="rotate(-90 1069 130)">LED8</text><text class="tr" x="1156" y="130" transform="rotate(-90 1156 130)">LED7</text>
<text class="x" x="1085" y="135">×</text><text class="x" x="1138" y="135">×</text><text class="x" x="1083" y="411">×</text><text class="x" x="1137" y="411">×</text>
<text class="x" x="962" y="239">×</text><text class="x" x="962" y="291">×</text><text class="x" x="1244" y="247">×</text><text class="x" x="1244" y="299">×</text>
<text x="1089" y="253">N702</text><text x="1089" y="270">IW7018</text>
<text class="tr" x="1200" y="124">VSYNC</text><text class="tr" x="1251" y="225">LED6</text><text class="tr" x="1252" y="313">LED5</text><text class="tr" x="1250" y="330">FAULTB</text>
<text x="1274" y="69">R711</text><text x="1273" y="80">51K/F</text><text x="1281" y="126">C753</text><text x="1290" y="143">474</text><text x="1321" y="108">C774</text><text x="1321" y="125">393</text>
<!-- SPI -->
<text x="919" y="524" textLength="134" lengthAdjust="spacingAndGlyphs" style="font-family:'Liberation Mono',monospace;font-size:15px;fill:#c050a8">SPI CONNECTOR</text>
<text x="927" y="541" textLength="122" lengthAdjust="spacingAndGlyphs" style="font-family:'Liberation Mono',monospace;font-size:11px;fill:#333">FROM MOTHER BOARD</text>
<text x="891" y="550">XS701</text><text x="896" y="661">D1251_10</text>
<text class="tn" x="903" y="563" text-anchor="end">1</text><text class="tn" x="903" y="572" text-anchor="end">2</text><text class="tn" x="903" y="581" text-anchor="end">3</text><text class="tn" x="903" y="589" text-anchor="end">4</text><text class="tn" x="903" y="598" text-anchor="end">5</text><text class="tn" x="903" y="607" text-anchor="end">6</text><text class="tn" x="903" y="616" text-anchor="end">7</text><text class="tn" x="903" y="624" text-anchor="end">8</text><text class="tn" x="903" y="633" text-anchor="end">9</text><text class="tn" x="905" y="642" text-anchor="end">10</text>
<text class="tn" x="917" y="559">1</text><text class="tn" x="917" y="568">2</text><text class="tn" x="917" y="577">3</text><text class="tn" x="917" y="585">4</text><text class="tn" x="917" y="594">5</text><text class="tn" x="917" y="603">6</text><text class="tn" x="917" y="612">7</text><text class="tn" x="917" y="620">8</text><text class="tn" x="917" y="629">9</text><text class="tn" x="917" y="638">10</text>
<text x="1019" y="558">R702</text><text x="1055" y="555">100R</text><text x="1019" y="567">R703</text><text x="1060" y="567">100R</text><text class="tr" x="1081" y="567">SCK</text>
<text x="1019" y="576">R704</text><text x="1060" y="576">100R</text><text class="tr" x="1076" y="576">MISO</text><text x="1019" y="585">R705</text><text x="1062" y="585">100R</text><text class="tr" x="1081" y="585">MOSI</text>
<text x="1018" y="600">R706</text><text x="1046" y="600">100R</text><text class="tr" x="1072" y="603">VSYNC</text><text class="tr" x="1218" y="559">CSB</text>
<text class="tr" x="963" y="611">B/L</text><text class="tr" x="940" y="620">FAULTB</text><text class="tr" x="957" y="637">+24V</text>
<text x="1094" y="545" transform="rotate(-90 1094 545)">R743  10K</text><text x="1114" y="545" transform="rotate(-90 1114 545)">R744  10K</text><text x="1134" y="545" transform="rotate(-90 1134 545)">R749  10K</text><text x="1150" y="547" transform="rotate(-90 1150 547)">R755 NC/10K</text><text x="1207" y="545" transform="rotate(-90 1207 545)">R742  10K</text>
<text x="1047" y="650">R717</text><text x="1050" y="657">1M</text><text x="1081" y="640">C724</text><text x="1081" y="649">NC</text><text x="1099" y="640">C727</text><text x="1100" y="649">NC</text><text x="1120" y="640">C728</text><text x="1120" y="649">NC</text>
<text x="1157" y="640">R745</text><text x="1157" y="664">NC</text><text x="1178" y="643">C725</text><text x="1182" y="665">NC</text><text x="1200" y="640">R750</text><text x="1201" y="675">NC</text><text x="1214" y="649">C726</text><text x="1216" y="665">NC</text>
<text x="1325" y="611">XS951</text><text x="1324" y="725">CON10</text>
<text class="tg" x="1306" y="618">CSB</text><text class="tg" x="1284" y="632">SCK</text><text class="tg" x="1284" y="641">MISO</text><text class="tg" x="1284" y="650">MOSI</text><text class="tg" x="1280" y="667">VSYNC</text><text class="tr" x="1288" y="676" style="font-size:7px">B/L</text><text class="tg" x="1277" y="685">FAULTB</text><text class="tr" x="1284" y="703" style="font-size:7px">+24V</text>
<text class="tn" x="1313" y="631">1</text><text class="tn" x="1313" y="640">2</text><text class="tn" x="1313" y="649">3</text><text class="tn" x="1313" y="657">4</text><text class="tn" x="1313" y="666">5</text><text class="tn" x="1313" y="675">6</text><text class="tn" x="1313" y="684">7</text><text class="tn" x="1313" y="692">8</text><text class="tn" x="1313" y="701">9</text><text class="tn" x="1310" y="710">10</text>
<!-- soft start -->
<text x="301" y="555">VCC</text><text class="tr" x="195" y="608">V703</text><text x="178" y="617">NC/3906</text>
<text x="275" y="581">VD708</text><text x="266" y="600">NC/BAV70</text><text x="316" y="585">R783</text><text x="315" y="596">NC/680K</text>
<text x="265" y="624">VD704</text><text x="258" y="636">NC/6.8V</text><text x="313" y="625">C779</text><text x="312" y="641">NC/2.2uF</text>
<text class="tb" x="225" y="683" style="font-size:12px">Soft-start</text>
<text x="358" y="571">V_BOOST</text><text x="415" y="569">L708</text><text x="418" y="608">L709</text>
<text class="tn" x="401" y="576">2</text><text class="tn" x="401" y="590">2</text><text class="tn" x="458" y="576">1</text><text class="tn" x="458" y="590">1</text>
<text x="603" y="582">VLED2</text><text x="600" y="597">VLED1</text>
<text x="463" y="606">C752</text><text class="tr" x="468" y="615">105</text><text x="485" y="606">C776</text><text class="tr" x="492" y="615">105</text>
<text x="463" y="637">C754</text><text class="tr" x="470" y="645">105</text><text x="484" y="638">C775</text><text class="tr" x="490" y="645">105</text>
<text x="527" y="634">C778</text><text class="tr" x="521" y="645">104/250v</text><text x="562" y="634">C777</text><text class="tr" x="560" y="645">104/250V</text>
<text x="462" y="677">C755</text><text class="tr" x="474" y="686">0</text><text x="484" y="677">C756</text><text class="tr" x="497" y="686">0</text>
<text class="tc" x="535" y="665">放排线接口</text>
<!-- LED caps -->
<text class="tr" x="58" y="712">LED1</text><text class="tr" x="58" y="729">LED2</text><text class="tr" x="58" y="746">LED3</text><text class="tr" x="58" y="764">LED4</text><text class="tr" x="58" y="781">LED5</text><text class="tr" x="58" y="797">LED6</text><text class="tr" x="58" y="812">LED7</text><text class="tr" x="58" y="829">LED8</text>
<text x="93" y="709">C734</text><text x="93" y="726">C735</text><text x="93" y="744">C736</text><text x="93" y="761">C737</text><text x="93" y="778">C738</text><text x="93" y="795">C739</text><text x="93" y="809">C740</text><text x="93" y="827">C741</text>
<text x="120" y="708">NC</text><text x="120" y="725">NC</text><text x="120" y="743">NC</text><text x="120" y="760">NC</text><text x="120" y="777">NC</text><text x="120" y="794">NC</text><text x="120" y="808">NC</text><text x="120" y="826">NC</text>
<text x="133" y="709">C763</text><text x="133" y="726">C764</text><text x="133" y="744">C765</text><text x="133" y="761">C766</text><text x="133" y="778">C767</text><text x="133" y="795">C768</text><text x="133" y="809">C769</text><text x="133" y="827">C770</text>
<text x="160" y="708">NC</text><text x="160" y="725">NC</text><text x="160" y="743">NC</text><text x="160" y="760">NC</text><text x="160" y="777">NC</text><text x="160" y="794">NC</text><text x="160" y="808">NC</text><text x="160" y="826">NC</text>
<!-- XS707 -->
<text x="314" y="693">XS707</text><text x="308" y="863">CON16</text><text x="208" y="826">VLED1</text>
<text class="tr" x="260" y="719">LED8</text><text class="tr" x="260" y="737">LED7</text><text class="tr" x="260" y="754">LED6</text><text class="tr" x="260" y="772">LED5</text><text class="tr" x="260" y="789">LED4</text><text class="tr" x="260" y="806">LED3</text><text class="tr" x="260" y="824">LED2</text><text class="tr" x="260" y="841">LED1</text>
<text class="tn" x="309" y="711" text-anchor="end">1</text><text class="tn" x="309" y="719.7" text-anchor="end">2</text><text class="tn" x="309" y="728.5" text-anchor="end">3</text><text class="tn" x="309" y="737.2" text-anchor="end">4</text><text class="tn" x="309" y="745.9" text-anchor="end">5</text><text class="tn" x="309" y="754.7" text-anchor="end">6</text><text class="tn" x="309" y="763.4" text-anchor="end">7</text><text class="tn" x="309" y="772.1" text-anchor="end">8</text><text class="tn" x="309" y="780.8" text-anchor="end">9</text><text class="tn" x="309" y="789.6" text-anchor="end">10</text><text class="tn" x="309" y="798.3" text-anchor="end">11</text><text class="tn" x="309" y="807" text-anchor="end">12</text><text class="tn" x="309" y="815.8" text-anchor="end">13</text><text class="tn" x="309" y="824.5" text-anchor="end">14</text><text class="tn" x="309" y="833.2" text-anchor="end">15</text><text class="tn" x="309" y="842" text-anchor="end">16</text>
<!-- XS704 -->
<text x="376" y="779">XS704</text><text x="373" y="818">VLED1</text><text x="389" y="850">FPC12-ACES</text>
<text class="tr" x="408" y="737">LED8</text><text class="tr" x="408" y="745.8">LED7</text><text class="tr" x="408" y="754.6">LED6</text><text class="tr" x="408" y="763.4">LED5</text><text class="tr" x="408" y="772.2">LED4</text><text class="tr" x="408" y="781">LED3</text><text class="tr" x="408" y="789.8">LED2</text><text class="tr" x="408" y="798.6">LED1</text>
<text class="tn" x="437" y="738" text-anchor="end">1</text><text class="tn" x="437" y="746.8" text-anchor="end">2</text><text class="tn" x="437" y="755.6" text-anchor="end">3</text><text class="tn" x="437" y="764.4" text-anchor="end">4</text><text class="tn" x="437" y="773.2" text-anchor="end">5</text><text class="tn" x="437" y="782" text-anchor="end">6</text><text class="tn" x="437" y="790.8" text-anchor="end">7</text><text class="tn" x="437" y="799.6" text-anchor="end">8</text><text class="tn" x="437" y="808.4" text-anchor="end">9</text><text class="tn" x="437" y="817.2" text-anchor="end">10</text><text class="tn" x="437" y="826" text-anchor="end">11</text><text class="tn" x="437" y="834.8" text-anchor="end">12</text>
<text class="x" x="413" y="809">×</text><text class="x" x="413" y="818">×</text>
<!-- XS703 -->
<text x="487" y="781">XS703</text><text x="485" y="819">VLED2</text><text x="500" y="848">FPC12-ACES</text>
<text class="tr" x="511" y="737">LED4</text><text class="tr" x="511" y="745.8">LED3</text><text class="tr" x="511" y="754.6">LED2</text><text class="tr" x="511" y="763.4">LED1</text>
<text class="tn" x="549" y="738" text-anchor="end">1</text><text class="tn" x="549" y="746.8" text-anchor="end">2</text><text class="tn" x="549" y="755.6" text-anchor="end">3</text><text class="tn" x="549" y="764.4" text-anchor="end">4</text><text class="tn" x="549" y="773.2" text-anchor="end">5</text><text class="tn" x="549" y="782" text-anchor="end">6</text><text class="tn" x="549" y="790.8" text-anchor="end">7</text><text class="tn" x="549" y="799.6" text-anchor="end">8</text><text class="tn" x="549" y="808.4" text-anchor="end">9</text><text class="tn" x="549" y="817.2" text-anchor="end">10</text><text class="tn" x="549" y="826" text-anchor="end">11</text><text class="tn" x="549" y="834.8" text-anchor="end">12</text>
<text class="x" x="525" y="774">×</text><text class="x" x="525" y="783">×</text><text class="x" x="525" y="791">×</text><text class="x" x="525" y="800">×</text><text class="x" x="525" y="809">×</text><text class="x" x="525" y="818">×</text>
<!-- XS706 -->
<text x="665" y="743">CON10</text><text x="666" y="857">XS706</text><text x="592" y="830">VLED2</text>
<text class="tr" x="621" y="756">LED4</text><text class="tr" x="621" y="764.8">LED3</text><text class="tr" x="621" y="773.6">LED2</text><text class="tr" x="621" y="782.4">LED1</text>
<text class="tn" x="660" y="754" text-anchor="end">10</text><text class="tn" x="660" y="762.8" text-anchor="end">9</text><text class="tn" x="660" y="771.6" text-anchor="end">8</text><text class="tn" x="660" y="780.4" text-anchor="end">7</text><text class="tn" x="660" y="789.2" text-anchor="end">6</text><text class="tn" x="660" y="798" text-anchor="end">5</text><text class="tn" x="660" y="806.8" text-anchor="end">4</text><text class="tn" x="660" y="815.6" text-anchor="end">3</text><text class="tn" x="660" y="824.4" text-anchor="end">2</text><text class="tn" x="660" y="833.2" text-anchor="end">1</text>
<text class="x" x="632" y="793">×</text><text class="x" x="632" y="802">×</text>
<!-- XS705 -->
<text x="783" y="745">CON10</text><text x="784" y="858">XS705</text><text x="700" y="833">VLED1</text>
<text class="tr" x="742" y="759">LED8</text><text class="tr" x="742" y="767.8">LED7</text><text class="tr" x="742" y="776.6">LED6</text><text class="tr" x="742" y="785.4">LED5</text>
<text class="tn" x="777" y="757" text-anchor="end">10</text><text class="tn" x="777" y="765.8" text-anchor="end">9</text><text class="tn" x="777" y="774.6" text-anchor="end">8</text><text class="tn" x="777" y="783.4" text-anchor="end">7</text><text class="tn" x="777" y="792.2" text-anchor="end">6</text><text class="tn" x="777" y="801" text-anchor="end">5</text><text class="tn" x="777" y="809.8" text-anchor="end">4</text><text class="tn" x="777" y="818.6" text-anchor="end">3</text><text class="tn" x="777" y="827.4" text-anchor="end">2</text><text class="tn" x="777" y="836.2" text-anchor="end">1</text>
<text class="x" x="750" y="796">×</text><text class="x" x="750" y="805">×</text>

<!-- TITLE BLOCK -->
<rect x="827" y="730" width="525" height="140" class="k"/>
<path class="k" d="M827,748H1352M827,765H1352M827,783H1002M827,801H1002M827,818H1002M1177,818H1352M827,835H1002M1177,835H1352M827,853H1002
M853.5,730V765M879.6,730V870M932.5,730V765M975.7,730V765M1002.5,730V870M1028.6,730V765M1055.4,730V765M1107.5,730V765M1151.5,730V765M1177.5,730V870M1204.4,730V765M1230.4,730V765M1282.6,730V765M1326.5,730V765
M1247.5,818V870M1300.4,818V835M1213,835V870"/>
<text class="tk" x="1179" y="760">标记</text><text class="tk" x="1205" y="760">数量</text><text class="tk" x="1232" y="760">更改单号</text><text class="tk" x="1292" y="760">签名</text><text class="tk" x="1329" y="760">日期</text>
<text class="tk" x="836" y="779">拟 制</text><text class="tk" x="836" y="797">审 核</text><text class="tk" x="836" y="848">标准化</text><text class="tk" x="836" y="865">批 准</text>
<text class="tk" x="1183" y="831">阶段标记</text><text class="tk" x="1258" y="831">第</text><text class="tk" x="1286" y="831">张</text><text class="tk" x="1313" y="831">共</text><text class="tk" x="1339" y="831">张</text>
<text x="1011" y="828" textLength="152" lengthAdjust="spacingAndGlyphs" style="font-family:'Liberation Mono',monospace;font-weight:bold;font-size:17px;fill:#222">KLD+L048E08-01</text>
<text x="1208" y="798" textLength="110" lengthAdjust="spacingAndGlyphs" style="font-family:'Liberation Mono',monospace;font-weight:bold;font-size:17px;fill:#222">2012.07.25</text>

<!-- FOOTER -->
<text x="31" y="971" textLength="359" lengthAdjust="spacingAndGlyphs" style="font-family:'Liberation Serif','Noto Serif CJK SC',serif;font-size:18px;fill:#444">PDF 文件以 "PDF 制作工厂" 试用版创建</text>
<text x="421" y="971" style="font-family:'Liberation Serif',serif;font-size:17px;fill:#444">ÿÿÿÿÿ</text>
<path d="M420,975H661" stroke="#8a9acb" stroke-width="1.6"/>
<text x="695" y="930" textLength="190" lengthAdjust="spacingAndGlyphs" style="font-family:'Noto Serif CJK SC',serif;font-weight:bold;font-size:24px;fill:#111">家电维修资料网</text>
<text x="692" y="954" textLength="198" lengthAdjust="spacingAndGlyphs" style="font-family:'Liberation Sans',sans-serif;font-weight:bold;font-size:20px;fill:#111">www.520101.com</text>
</svg>
</body></html>
